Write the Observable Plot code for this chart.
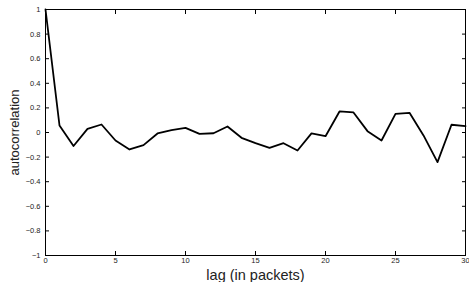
<!DOCTYPE html>
<html>
<head>
<meta charset="utf-8">
<script src="https://cdn.jsdelivr.net/npm/d3@7"></script>
<script src="https://cdn.jsdelivr.net/npm/@observablehq/plot@0.6"></script>
<style>
  html, body { margin: 0; padding: 0; background: #fff; }
  #chart svg { display: block; }
</style>
</head>
<body>
<div id="chart"></div>
<script>
const lags = [0,1,2,3,4,5,6,7,8,9,10,11,12,13,14,15,16,17,18,19,20,21,22,23,24,25,26,27,28,29,30];
const acf = [1.0,0.057,-0.11,0.03,0.065,-0.065,-0.138,-0.103,-0.008,0.02,0.038,-0.011,-0.006,0.049,-0.043,-0.087,-0.125,-0.087,-0.146,-0.007,-0.03,0.171,0.163,0.011,-0.065,0.152,0.16,-0.024,-0.241,0.063,0.051];
const xTicks = [0,5,10,15,20,25,30];
const yTicks = [-1,-0.8,-0.6,-0.4,-0.2,0,0.2,0.4,0.6,0.8,1];

const data = lags.map((l, i) => ({lag: l, r: acf[i]}));
const fmt = d => String(d).replace("-", "\u2212");
const blank = () => "";

const chart = Plot.plot({
  width: 469,
  height: 282,
  marginLeft: 45,
  marginRight: 4,
  marginTop: 9,
  marginBottom: 27,
  style: {fontFamily: "'Liberation Sans', Arial, sans-serif", background: "#fff", color: "#000"},
  x: {domain: [0, 30]},
  y: {domain: [-1, 1]},
  marks: [
    Plot.frame({stroke: "#000", strokeWidth: 1}),
    Plot.axisX(xTicks, {anchor: "bottom", tickSize: 0, tickPadding: 2, tickFormat: fmt, fontSize: 7.5, label: "lag (in packets)", labelArrow: "none", labelAnchor: "center", labelOffset: 24, fill: "#222"}),
    Plot.axisX(xTicks, {anchor: "bottom", tickSize: -4, tickFormat: blank, label: null}),
    Plot.axisX(xTicks, {anchor: "top", tickSize: -4, tickFormat: blank, label: null}),
    Plot.axisY(yTicks, {anchor: "left", tickSize: 0, tickPadding: 5, tickFormat: fmt, fontSize: 7.5, label: "autocorrelation", labelArrow: "none", labelAnchor: "center", labelOffset: 36, fill: "#222"}),
    Plot.axisY(yTicks, {anchor: "left", tickSize: -4, tickFormat: blank, label: null}),
    Plot.axisY(yTicks, {anchor: "right", tickSize: -4, tickFormat: blank, label: null}),
    Plot.line(data, {x: "lag", y: "r", stroke: "#000", strokeWidth: 1.8})
  ]
});
document.getElementById("chart").appendChild(chart);
// enlarge axis labels
chart.querySelectorAll("g[aria-label='x-axis label'] text").forEach(t => t.setAttribute("font-size", 14.5));
chart.querySelectorAll("g[aria-label='y-axis label'] text").forEach(t => t.setAttribute("font-size", 13));
</script>
</body>
</html>
